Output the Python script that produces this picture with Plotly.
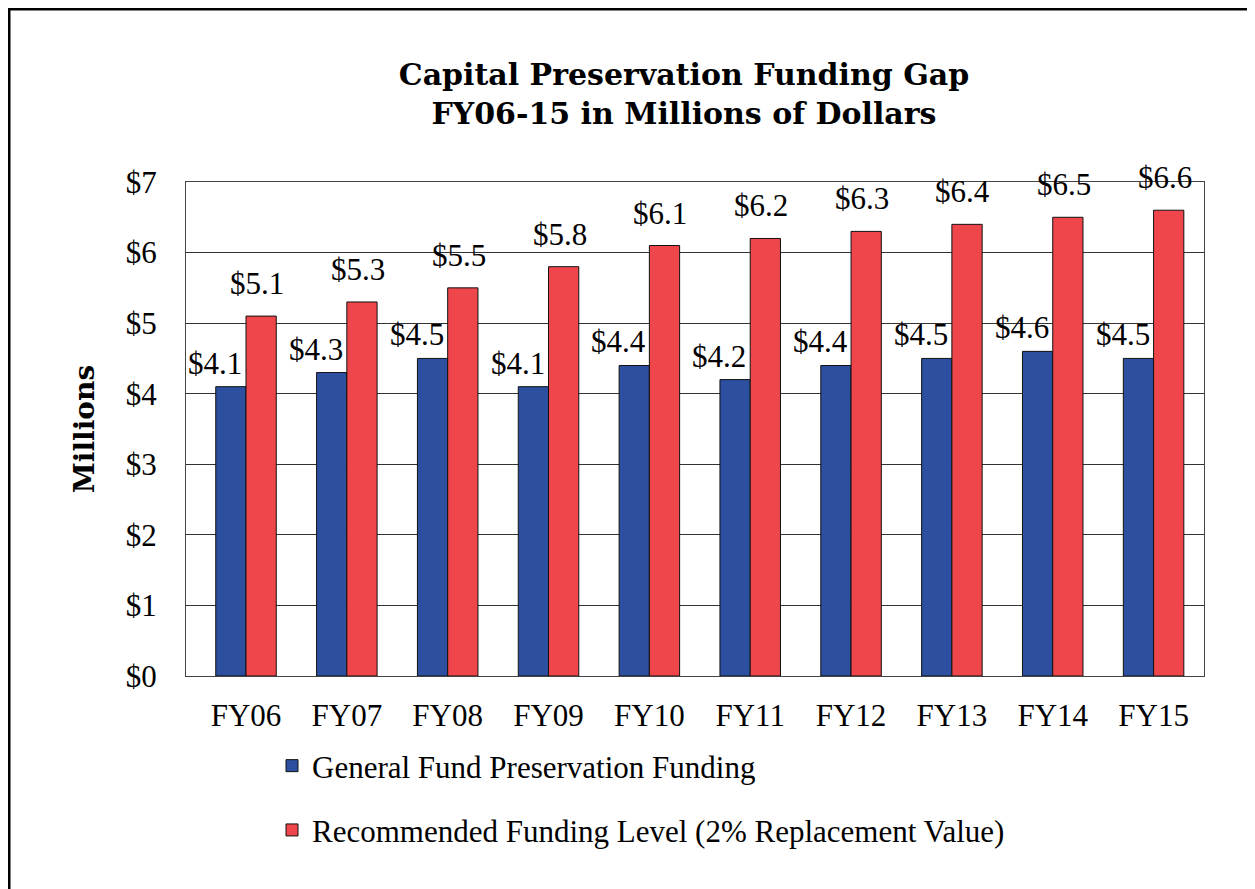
import plotly.graph_objects as go

categories = ["FY06", "FY07", "FY08", "FY09", "FY10", "FY11", "FY12", "FY13", "FY14", "FY15"]
general_fund = [4.1, 4.3, 4.5, 4.1, 4.4, 4.2, 4.4, 4.5, 4.6, 4.5]
recommended = [5.1, 5.3, 5.5, 5.8, 6.1, 6.2, 6.3, 6.4, 6.5, 6.6]
y_ticks = [0, 1, 2, 3, 4, 5, 6, 7]
y_tick_text = ["$%d" % v for v in y_ticks]

name_general = "General Fund Preservation Funding"
name_recommended = "Recommended Funding Level (2% Replacement Value)"

BLUE = "#2D4F9F"
RED = "#EF464B"
REG = "Liberation Serif"
BOLD = "DejaVu Serif"

W, H = 1247, 881
ML, MT = 178, 174
PW, PH = 1018, 494
MR = W - ML - PW
MB = H - MT - PH

fig = go.Figure()
fig.add_trace(go.Bar(
    x=categories, y=general_fund, name=name_general, legendgroup="g1",
    marker=dict(color=BLUE, line=dict(color="#111111", width=1)),
))
fig.add_trace(go.Bar(
    x=categories, y=recommended, name=name_recommended, legendgroup="g2",
    marker=dict(color=RED, line=dict(color="#111111", width=1)),
))

annotations = []
for c, v in zip(categories, general_fund):
    annotations.append(dict(x=c, y=v, xref="x", yref="y", text="$%.1f" % v,
                            showarrow=False, xanchor="center", yanchor="bottom",
                            xshift=-31, yshift=4,
                            font=dict(family=REG, size=31, color="#000000")))
for c, v in zip(categories, recommended):
    annotations.append(dict(x=c, y=v, xref="x", yref="y", text="$%.1f" % v,
                            showarrow=False, xanchor="center", yanchor="bottom",
                            xshift=11, yshift=13,
                            font=dict(family=REG, size=31, color="#000000")))


def px_x(px):
    return (px - ML) / PW


def px_y(py):
    return (MT + PH - py) / PH


shapes = [
    dict(type="line", xref="paper", yref="paper", x0=px_x(0), x1=px_x(W + 5),
         y0=px_y(1), y1=px_y(1), line=dict(color="#000000", width=3)),
    dict(type="line", xref="paper", yref="paper", x0=px_x(1), x1=px_x(1),
         y0=px_y(0), y1=px_y(H + 5), line=dict(color="#000000", width=3)),
]

fig.update_layout(
    width=W, height=H,
    margin=dict(l=ML, r=MR, t=MT, b=MB),
    paper_bgcolor="#FFFFFF", plot_bgcolor="#FFFFFF",
    barmode="group", bargap=0.4, bargroupgap=0,
    title=dict(text="<b>Capital Preservation Funding Gap<br>FY06-15 in Millions of Dollars</b>",
               xref="container", x=676 / W, xanchor="center",
               yref="container", y=1 - 77 / H, yanchor="top",
               font=dict(family=BOLD, size=30, color="#000000")),
    xaxis=dict(showline=True, linecolor="#444444", linewidth=1, mirror=True,
               ticks="", tickfont=dict(family=REG, size=31, color="#000000"),
               ticklabelstandoff=12, showgrid=False, automargin=False),
    yaxis=dict(range=[0, 7], tickvals=y_ticks, ticktext=y_tick_text,
               showline=True, linecolor="#444444", linewidth=1, mirror=True,
               showgrid=True, gridcolor="#333333", gridwidth=1,
               ticks="", tickfont=dict(family=REG, size=31, color="#000000"),
               ticklabelstandoff=22, zeroline=False, automargin=False,
               title=dict(text="<b>Millions</b>", standoff=22,
                          font=dict(family=BOLD, size=28, color="#000000"))),
    legend=dict(x=px_x(264), xanchor="left", y=px_y(731), yanchor="top",
                orientation="v", tracegroupgap=21,
                font=dict(family=REG, size=31, color="#000000"),
                bgcolor="rgba(0,0,0,0)"),
    annotations=annotations,
    shapes=shapes,
)

fig.write_html("out.html")
